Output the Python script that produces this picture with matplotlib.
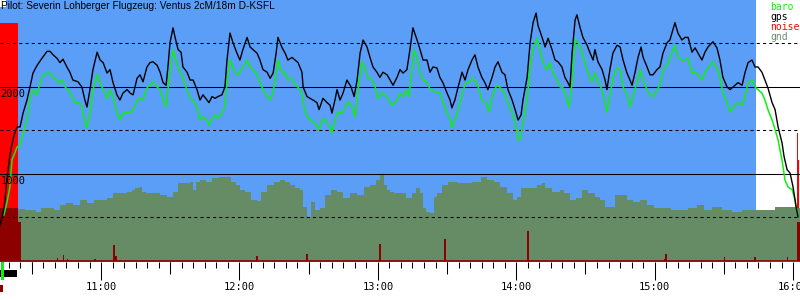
import matplotlib.pyplot as plt
from matplotlib.patches import Rectangle

title = "Pilot: Severin Lohberger Flugzeug: Ventus 2cM/18m D-KSFL"

# time in minutes after 10:00, altitude in m
gps_track = [
    (16.2, 410), (17.5, 550), (18.4, 700), (18.8, 850), (19.7, 1050), (20.5, 1220),
    (21.8, 1390), (22.7, 1480), (23.6, 1540), (24.9, 1540), (26.2, 1700), (27.9, 1850),
    (29.2, 2000), (30.5, 2160), (32.3, 2250), (34.4, 2330), (36.6, 2410), (37.9, 2410),
    (39.2, 2370), (40.9, 2330), (42.2, 2280), (43.5, 2320), (45.2, 2230), (46.5, 2170),
    (47.8, 2080), (50.0, 2060), (51.7, 2000), (53.0, 1850), (53.9, 1770), (55.2, 1970),
    (56.5, 2200), (58.3, 2400), (59.6, 2310), (60.9, 2280), (62.6, 2160), (63.9, 2200),
    (65.2, 2050), (66.9, 1910), (68.2, 1850), (69.5, 1930), (71.3, 1970), (72.6, 1930),
    (73.9, 1910), (75.6, 2100), (76.9, 2140), (78.2, 2060), (79.9, 2230), (81.2, 2280),
    (82.5, 2290), (84.3, 2250), (85.6, 2170), (86.9, 2050), (88.2, 2020), (89.0, 2230),
    (89.9, 2510), (91.2, 2680), (92.1, 2570), (93.4, 2430), (94.7, 2400), (95.5, 2230),
    (97.3, 2170), (98.6, 2080), (99.9, 2080), (101.6, 1970), (102.9, 1850), (104.2, 1910),
    (105.9, 1850), (106.8, 1820), (108.1, 1890), (109.4, 1870), (110.7, 1890), (112.4, 1910),
    (113.7, 2000), (114.6, 2310), (115.9, 2620), (117.2, 2510), (118.9, 2390), (120.2, 2310),
    (121.5, 2430), (123.3, 2570), (124.6, 2460), (125.9, 2430), (127.6, 2390), (128.9, 2310),
    (130.2, 2200), (132.0, 2170), (133.3, 2100), (134.6, 2160), (135.9, 2390), (136.7, 2570),
    (138.5, 2450), (139.8, 2390), (141.0, 2310), (142.8, 2340), (144.1, 2310), (145.4, 2280),
    (147.1, 2170), (147.6, 2000), (149.3, 1890), (150.6, 1870), (151.9, 1850), (153.6, 1820),
    (154.5, 1740), (156.2, 1870), (158.0, 1820), (159.3, 1790), (160.1, 1700), (161.4, 1850),
    (162.3, 1970), (163.6, 1850), (164.9, 1930), (166.6, 2080), (168.4, 2000), (169.7, 1890),
    (171.0, 2080), (172.3, 2390), (173.6, 2540), (175.3, 2460), (176.6, 2340), (177.9, 2230),
    (179.6, 2170), (180.9, 2110), (182.2, 2170), (184.0, 2140), (185.3, 2080), (186.6, 2020),
    (188.3, 2110), (189.6, 2200), (190.9, 2160), (192.6, 2200), (193.9, 2430), (195.2, 2680),
    (197.0, 2540), (198.3, 2430), (199.6, 2310), (201.3, 2310), (202.6, 2170), (203.9, 2230),
    (205.6, 2220), (206.9, 2110), (208.2, 2050), (210.0, 1930), (211.3, 1850), (212.1, 1760),
    (213.4, 1850), (214.7, 1990), (216.5, 2170), (217.8, 2080), (219.1, 2200), (220.8, 2310),
    (222.1, 2370), (223.4, 2230), (225.1, 2110), (226.4, 2050), (227.7, 1970), (229.5, 2110),
    (230.8, 2230), (232.1, 2290), (233.8, 2170), (235.1, 2140), (236.4, 1970), (238.2, 1850),
    (239.5, 1740), (240.8, 1620), (242.1, 1680), (242.9, 1850), (244.7, 2110), (246.0, 2510),
    (247.3, 2740), (248.6, 2850), (249.4, 2710), (251.2, 2570), (252.5, 2460), (253.8, 2560),
    (255.5, 2430), (256.8, 2310), (258.1, 2290), (259.8, 2230), (261.1, 2110), (262.4, 2050),
    (263.3, 2000), (264.2, 2390), (265.5, 2770), (266.3, 2830), (267.6, 2690), (268.9, 2570),
    (270.7, 2480), (272.0, 2390), (273.3, 2310), (274.1, 2430), (275.4, 2290), (277.2, 2200),
    (278.5, 2080), (279.3, 1970), (280.6, 2200), (281.9, 2390), (283.7, 2480), (285.0, 2460),
    (286.3, 2310), (288.0, 2160), (289.3, 2080), (290.2, 2020), (291.5, 2170), (292.8, 2340),
    (294.1, 2460), (295.0, 2340), (296.7, 2230), (298.0, 2140), (299.3, 2140), (301.0, 2200),
    (302.3, 2230), (303.6, 2390), (305.4, 2510), (306.6, 2540), (308.8, 2740), (310.1, 2620),
    (311.8, 2540), (313.1, 2570), (314.5, 2570), (316.2, 2400), (317.5, 2450), (318.8, 2390),
    (320.5, 2310), (321.8, 2400), (323.1, 2460), (325.3, 2520), (327.0, 2450), (328.3, 2310),
    (329.6, 2110), (331.4, 2000), (332.7, 1970), (334.0, 2000), (336.1, 2050), (337.9, 2020),
    (339.2, 2170), (340.5, 2280), (342.2, 2310), (343.5, 2230), (344.8, 2230), (346.5, 2170),
    (347.8, 2080), (349.1, 1990), (350.9, 1820), (352.2, 1740), (353.5, 1540), (355.2, 1360),
    (356.1, 1200), (357.4, 1050), (358.7, 1010), (360.0, 850), (361.3, 620), (362.1, 510),
]

baro_track = [
    (17.9, 530), (19.2, 670), (20.5, 850), (21.4, 1160), (22.7, 1250), (23.6, 1310),
    (24.9, 1330), (26.2, 1470), (27.9, 1620), (29.2, 1850), (30.5, 1970), (32.3, 1910),
    (33.6, 2050), (34.9, 2140), (36.6, 2160), (37.9, 2160), (39.2, 2110), (40.9, 2080),
    (41.3, 2050), (43.1, 2080), (44.4, 2000), (45.7, 1970), (47.4, 1890), (48.7, 1820),
    (50.0, 1830), (51.7, 1770), (53.0, 1590), (53.9, 1530), (55.7, 1770), (56.5, 1970),
    (58.3, 2140), (59.6, 2050), (60.9, 1970), (62.6, 1870), (63.9, 1970), (65.2, 1890),
    (66.9, 1700), (68.2, 1620), (69.5, 1700), (71.3, 1710), (72.6, 1710), (73.9, 1740),
    (75.6, 1850), (76.9, 1870), (78.2, 1850), (79.9, 1990), (81.2, 2020), (82.5, 2060),
    (84.3, 2000), (85.6, 1970), (86.9, 1850), (88.2, 1770), (89.0, 1970), (90.3, 2250),
    (91.2, 2430), (92.5, 2310), (93.8, 2200), (95.5, 2110), (96.8, 2000), (98.6, 1870),
    (99.9, 1850), (101.6, 1770), (102.9, 1620), (104.2, 1660), (105.9, 1620), (106.8, 1560),
    (108.1, 1640), (109.4, 1680), (110.7, 1640), (112.4, 1700), (113.7, 1770), (114.6, 2050),
    (115.9, 2310), (117.2, 2230), (118.9, 2140), (120.2, 2170), (121.5, 2230), (123.3, 2310),
    (124.6, 2230), (125.9, 2200), (127.6, 2140), (128.9, 2060), (130.2, 1970), (132.0, 1890),
    (133.3, 1850), (134.6, 1940), (135.9, 2160), (136.7, 2310), (138.5, 2170), (139.8, 2160),
    (141.0, 2080), (142.8, 2100), (144.1, 2020), (145.4, 2000), (147.1, 1930), (148.0, 1770),
    (149.3, 1660), (150.6, 1620), (151.9, 1600), (153.6, 1560), (154.5, 1510), (156.2, 1640),
    (158.0, 1590), (159.3, 1540), (160.1, 1470), (161.4, 1620), (162.7, 1710), (164.5, 1700),
    (165.8, 1770), (167.1, 1830), (168.8, 1770), (170.1, 1660), (171.4, 1970), (173.1, 2290),
    (174.4, 2230), (175.7, 2110), (177.5, 2080), (178.8, 2000), (180.1, 1870), (181.8, 1930),
    (183.1, 1910), (184.4, 1870), (186.1, 1790), (187.4, 1820), (188.3, 1850), (189.6, 1930),
    (190.9, 1890), (192.6, 1970), (193.5, 1890), (194.8, 2200), (195.7, 2430), (197.0, 2330),
    (198.3, 2160), (199.6, 2080), (201.3, 2060), (202.6, 1970), (203.9, 1970), (205.6, 1930),
    (206.9, 1930), (208.2, 1830), (210.0, 1700), (211.3, 1640), (212.1, 1530), (213.9, 1660),
    (215.2, 1770), (216.5, 1930), (218.2, 2050), (219.5, 2060), (220.8, 2100), (222.5, 2060),
    (223.9, 1970), (225.1, 1850), (226.9, 1820), (228.2, 1710), (229.5, 1890), (231.2, 2000),
    (232.1, 2020), (233.8, 1970), (235.1, 1910), (236.4, 1820), (238.2, 1700), (239.5, 1590),
    (240.8, 1390), (241.6, 1390), (242.9, 1590), (244.7, 1850), (246.0, 2230), (247.3, 2430),
    (249.0, 2560), (250.3, 2430), (251.6, 2280), (253.3, 2200), (254.6, 2280), (255.9, 2160),
    (257.7, 2080), (259.0, 2000), (260.3, 1990), (262.0, 1850), (262.9, 1770), (264.2, 2050),
    (265.5, 2540), (266.8, 2510), (268.5, 2390), (269.8, 2280), (271.1, 2160), (272.8, 2060),
    (274.1, 2160), (275.4, 2060), (277.2, 1970), (278.5, 1820), (279.3, 1710), (280.6, 1890),
    (281.9, 2110), (283.7, 2220), (285.0, 2200), (286.3, 2000), (288.0, 1910), (289.3, 1770),
    (290.6, 1890), (292.3, 2050), (293.7, 2200), (295.0, 2080), (296.7, 1970), (298.0, 1910),
    (299.3, 1890), (301.0, 1970), (302.3, 2020), (303.6, 2200), (305.4, 2250), (306.6, 2330),
    (308.8, 2480), (310.1, 2340), (311.8, 2310), (313.1, 2310), (314.5, 2330), (316.2, 2160),
    (317.5, 2170), (318.8, 2140), (320.5, 2080), (321.8, 2170), (323.1, 2220), (325.3, 2290),
    (327.0, 2220), (328.3, 2110), (329.6, 1930), (331.4, 1820), (332.7, 1710), (334.0, 1770),
    (336.1, 1820), (337.9, 1790), (339.2, 1890), (340.5, 2050), (342.2, 2080), (343.5, 2000),
    (344.8, 1970), (346.5, 1930), (347.8, 1850), (349.1, 1740), (350.9, 1620), (352.2, 1510),
    (353.5, 1390), (355.2, 1160), (356.5, 930), (357.8, 850), (359.6, 820), (360.9, 700),
    (361.7, 550),
]

ground_profile = [
    (16.2, 610), (24.0, 600), (30.5, 590), (32.7, 560), (34.9, 610), (38.7, 610),
    (40.9, 590), (43.5, 640), (46.5, 670), (49.6, 640), (52.2, 700), (55.2, 670),
    (58.3, 700), (60.9, 700), (63.9, 720), (66.9, 780), (69.5, 780), (72.6, 790),
    (73.9, 820), (75.6, 840), (76.9, 850), (78.2, 790), (81.2, 780), (84.3, 780),
    (86.9, 760), (89.9, 740), (92.9, 790), (94.2, 900), (97.3, 900), (99.4, 910),
    (100.7, 820), (102.0, 910), (104.2, 930), (107.2, 910), (109.4, 950), (112.9, 970),
    (115.9, 970), (117.2, 910), (119.4, 870), (121.5, 820), (123.7, 790), (125.9, 700),
    (128.9, 690), (130.2, 790), (133.3, 870), (136.3, 910), (138.5, 930), (140.6, 910),
    (142.8, 870), (145.0, 840), (147.1, 820), (148.4, 620), (150.6, 510), (151.5, 680),
    (153.6, 590), (156.2, 610), (158.4, 760), (160.6, 820), (163.6, 790), (166.6, 720),
    (169.2, 780), (172.3, 760), (175.3, 850), (177.9, 870), (180.1, 930), (181.8, 990),
    (183.1, 870), (184.4, 820), (186.1, 790), (188.3, 780), (190.9, 780), (193.9, 720),
    (196.1, 780), (197.4, 840), (199.1, 780), (200.4, 610), (201.7, 560), (203.5, 550),
    (204.8, 740), (206.9, 780), (209.1, 870), (212.1, 910), (217.8, 900), (223.4, 910),
    (225.6, 970), (228.6, 930), (231.7, 910), (234.3, 850), (237.3, 780), (239.5, 700),
    (240.8, 740), (242.9, 840), (248.1, 840), (250.3, 870), (251.6, 900), (253.3, 840),
    (258.1, 790), (259.8, 820), (262.0, 780), (264.2, 700), (267.6, 720), (269.8, 820),
    (272.8, 780), (275.4, 740), (277.6, 700), (279.3, 620), (281.9, 620), (284.1, 760),
    (286.3, 760), (289.3, 700), (292.3, 680), (295.0, 700), (298.0, 640), (301.0, 610),
    (305.4, 610), (308.8, 590), (312.3, 590), (316.6, 610), (319.7, 640), (322.7, 590),
    (327.0, 620), (331.4, 590), (335.7, 560), (340.0, 590), (348.7, 590), (355.6, 620),
    (360.0, 620), (363.0, 610),
]

# engine / vario noise
noise_spikes = [
    (41.3, 35), (43.9, 70), (45.3, 25), (57.4, 25), (65.6, 185), (66.5, 60),
    (127.6, 60), (149.3, 80), (180.9, 195), (209.1, 250), (245.1, 345),
    (304.1, 25), (304.9, 80), (330.1, 45), (343.5, 45), (357.4, 45),
]
noise_start = [(16.2, 610), (24.0, 450), (25.3, 450)]
noise_end = [(361.6, 450), (363.2, 450)]
loud_noise = [(16.2, 23.8, 2740), (361.6, 362.1, 1470), (362.3, 362.7, 1160)]

flight_window = (16.2, 343.9)

hour_ticks = [60, 120, 180, 240, 300, 360]
hour_labels = ['11:00', '12:00', '13:00', '14:00', '15:00', '16:00']
half_ticks = [30, 90, 150, 210, 270, 330]
minor_ticks = list(range(20, 365, 5))

blue = '#5a9ef8'
gnd_col = '#658c65'
baro_col = '#11ee11'
dark_red = '#8c0000'

fig = plt.figure(figsize=(8, 3), dpi=100)
ax = fig.add_axes([0, 0.1257, 1, 0.8743])
ax.set_xlim(16.2, 363.0)
ax.set_ylim(-15, 3000)

ax.axvspan(flight_window[0], flight_window[1], color=blue, lw=0, zorder=0)
ax.bar(16.2, 80, width=2.6, bottom=2920, align='edge', color='white', lw=0, zorder=0.5)

for t0, t1, h in loud_noise:
    ax.bar(t0, h, width=t1 - t0, align='edge', color='#ff0000', lw=0, zorder=1)

g_t, g_alt = zip(*ground_profile)
ax.fill_between(g_t, 0, g_alt, step='mid', color=gnd_col, lw=0, zorder=2)

s_t, s_v = zip(*noise_start)
ax.fill_between(s_t, 0, s_v, step='post', color=dark_red, lw=0, zorder=3)
e_t, e_v = zip(*noise_end)
ax.fill_between(e_t, 0, e_v, step='post', color=dark_red, lw=0, zorder=3)
n_t, n_v = zip(*noise_spikes)
ax.bar(n_t, n_v, width=0.5, color=dark_red, lw=0, zorder=3)

for lvl in [500, 1500, 2500]:
    ax.axhline(lvl, color='black', lw=0.75, dashes=(3, 3), zorder=4)
for lvl in [1000, 2000]:
    ax.axhline(lvl, color='black', lw=0.75, zorder=4)
    ax.text(16.4, lvl - 25, str(lvl), va='top', ha='left', fontsize=7.5,
            family='DejaVu Sans Mono', zorder=6)
ax.axhline(0, color=dark_red, lw=1.2, zorder=4)

b_t, b_alt = zip(*baro_track)
ax.plot(b_t, b_alt, color=baro_col, lw=1.1, zorder=5)
p_t, p_alt = zip(*gps_track)
ax.plot(p_t, p_alt, color='black', lw=1.0, zorder=5)

for s in ax.spines.values():
    s.set_visible(False)
ax.set_yticks([])
ax.set_xticks(hour_ticks)
ax.set_xticklabels(hour_labels, fontsize=7.5, family='DejaVu Sans Mono')
ax.set_xticks(minor_ticks, minor=True)
ax.tick_params(axis='x', which='major', length=13, width=0.75, pad=1.5)
ax.tick_params(axis='x', which='minor', length=4.3, width=0.75)

sec = ax.secondary_xaxis('bottom')
sec.set_xticks(half_ticks)
sec.set_xticklabels([])
sec.tick_params(length=8.6, width=0.75)
for s in sec.spines.values():
    s.set_visible(False)

fig.text(0.001, 0.997, title, ha='left', va='top', fontsize=7.3, family='Liberation Sans')

legend = [('baro', baro_col), ('gps', 'black'), ('noise', '#ff0000'), ('gnd', '#6a8f6a')]
for i, (name, col) in enumerate(legend):
    fig.text(0.9625, 0.993 - i * 0.0333, name, ha='left', va='top', color=col,
             fontsize=7, family='DejaVu Sans Mono')

# small status marks below the time axis
fig.patches.append(Rectangle((0, 0.0767), 0.0212, 0.0233, transform=fig.transFigure,
                             color='black', lw=0))
fig.patches.append(Rectangle((0.0012, 0.0667), 0.004, 0.06, transform=fig.transFigure,
                             color=baro_col, lw=0))
fig.patches.append(Rectangle((0, 0.0267), 0.004, 0.0233, transform=fig.transFigure,
                             color=dark_red, lw=0))

fig.savefig('out.png', dpi=100)
